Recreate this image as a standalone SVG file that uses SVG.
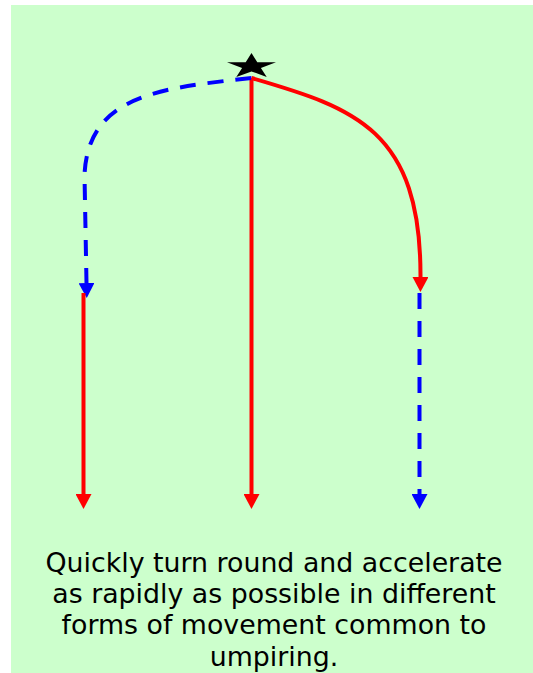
<svg xmlns="http://www.w3.org/2000/svg" width="533" height="673" viewBox="0 0 533 673">
<style>
.red{fill:none;stroke:#ff0000;stroke-width:4}
.blue{fill:none;stroke:#0000ff;stroke-width:4;stroke-dasharray:16 12}
.cap{font-family:"DejaVu Sans",Verdana,sans-serif;font-size:26.8px;fill:#000;text-anchor:middle}
</style>
<defs>
<marker id="ar" markerUnits="userSpaceOnUse" markerWidth="16" markerHeight="16" refX="0" refY="8" orient="auto" viewBox="0 0 16 16"><path d="M0,0 L15,8 L0,16 z" fill="#ff0000"/></marker>
<marker id="ab" markerUnits="userSpaceOnUse" markerWidth="16" markerHeight="16" refX="0" refY="8" orient="auto" viewBox="0 0 16 16"><path d="M0,0 L15,8 L0,16 z" fill="#0000ff"/></marker>
</defs>
<rect x="11" y="5" width="522" height="668" fill="#ccffcc"/>
<g id="start">
<polygon points="251.5,53 257.3,62.2 276,62.2 260.9,67.9 266.7,77.1 251.5,71.4 236.3,77.1 242.1,67.9 227,62.2 245.7,62.2" fill="#000"/>
</g>
<g id="connectors">
<path class="red" d="M251.5,78 L251.5,494" marker-end="url(#ar)"/>
<path class="blue" d="M251.5,78 C160,88 88,95 84.5,175 L86.5,283" marker-end="url(#ab)"/>
<path class="red" d="M83.5,293 L83.5,494" marker-end="url(#ar)"/>
<path class="red" d="M251.5,78 C355,108 421,130 420.5,277" marker-end="url(#ar)"/>
<path class="blue" d="M419.5,293 L419.5,494" marker-end="url(#ab)"/>
</g>
<g id="caption">
<text class="cap" x="274" y="572">Quickly turn round and accelerate</text>
<text class="cap" x="274" y="603">as rapidly as possible in different</text>
<text class="cap" x="274" y="634">forms of movement common to</text>
<text class="cap" x="274" y="666">umpiring.</text>
</g>
</svg>
